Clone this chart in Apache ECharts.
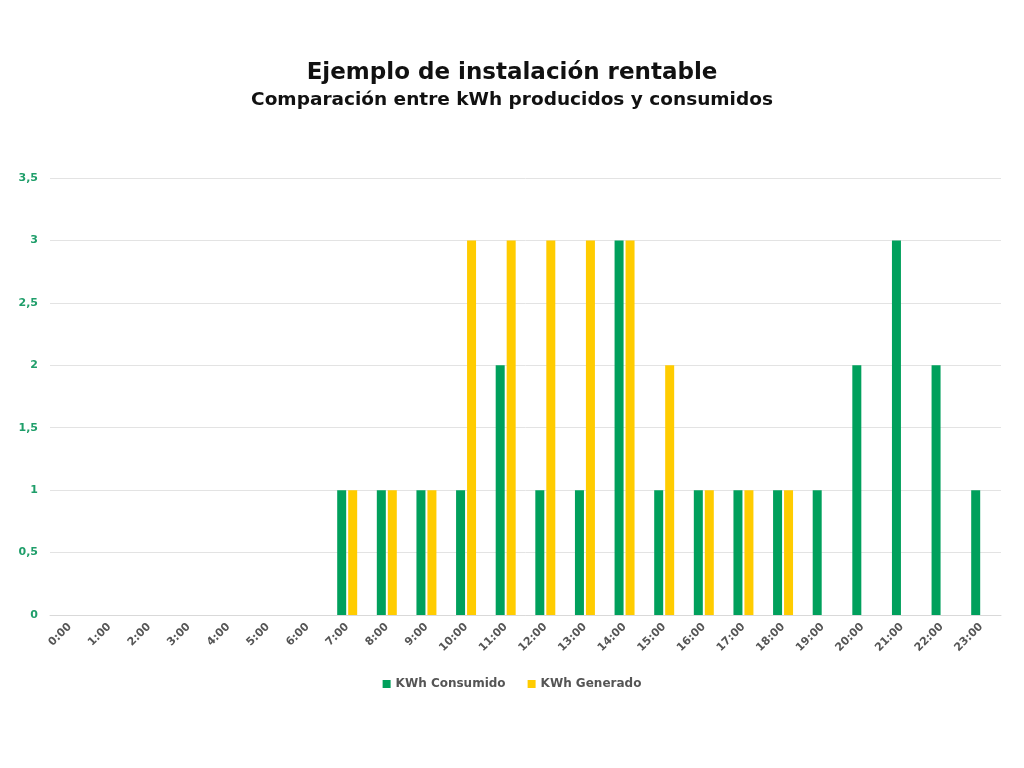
<!DOCTYPE html>
<html>
<head>
<meta charset="utf-8">
<script src="https://cdn.jsdelivr.net/npm/echarts@6/dist/echarts.min.js"></script>
<style>html,body{margin:0;padding:0;background:#fff}#c{width:1024px;height:768px}</style>
</head>
<body>
<div id="c"></div>
<script>
const categories = ['0:00','1:00','2:00','3:00','4:00','5:00','6:00','7:00','8:00','9:00','10:00','11:00','12:00','13:00','14:00','15:00','16:00','17:00','18:00','19:00','20:00','21:00','22:00','23:00'];
const consumido = [0,0,0,0,0,0,0,1,1,1,1,2,1,1,3,1,1,1,1,1,2,3,2,1];
const generado  = [0,0,0,0,0,0,0,1,1,1,3,3,3,3,3,2,1,1,1,0,0,0,0,0];
const seriesNames = ['KWh Consumido','KWh Generado'];
const titleText = 'Ejemplo de instalación rentable';
const subtitleText = 'Comparación entre kWh producidos y consumidos';

const FONT = '"DejaVu Sans", sans-serif';
const chart = echarts.init(document.getElementById('c'), null, {renderer:'canvas'});
chart.setOption({
  backgroundColor:'#ffffff',
  animation:false,
  title:{
    text:titleText, subtext:subtitleText, left:'center', top:57, itemGap:6,
    textStyle:{fontFamily:FONT, fontWeight:'bold', fontSize:23, color:'#111'},
    subtextStyle:{fontFamily:FONT, fontWeight:'bold', fontSize:18.5, color:'#111'}
  },
  legend:{
    bottom:73, left:'center', itemWidth:8, itemHeight:8, itemGap:22,
    icon:'rect',
    textStyle:{fontFamily:FONT, fontWeight:'bold', fontSize:12, color:'#555'},
    data:seriesNames
  },
  grid:{left:50, right:23, top:178, bottom:153, containLabel:false},
  xAxis:{
    type:'category', data:categories,
    axisLine:{show:true, lineStyle:{color:'#d9d9d9'}},
    axisTick:{show:false},
    axisLabel:{rotate:45, interval:0, margin:10, fontFamily:FONT, fontWeight:'bold', fontSize:11, color:'#555'}
  },
  yAxis:{
    type:'value', min:0, max:3.5, interval:0.5,
    axisLine:{show:false}, axisTick:{show:false},
    splitLine:{lineStyle:{color:'#e3e3e3'}},
    axisLabel:{margin:12, fontFamily:FONT, fontWeight:'bold', fontSize:11, color:'#1f9e6a',
      formatter:v=>String(v).replace('.',',')}
  },
  series:[
    {name:seriesNames[0], type:'bar', data:consumido, barWidth:9, barGap:'22%', itemStyle:{color:'#00a05c'}},
    {name:seriesNames[1], type:'bar', data:generado, barWidth:9, barGap:'22%', itemStyle:{color:'#ffcc00'}}
  ]
});
</script>
</body>
</html>
